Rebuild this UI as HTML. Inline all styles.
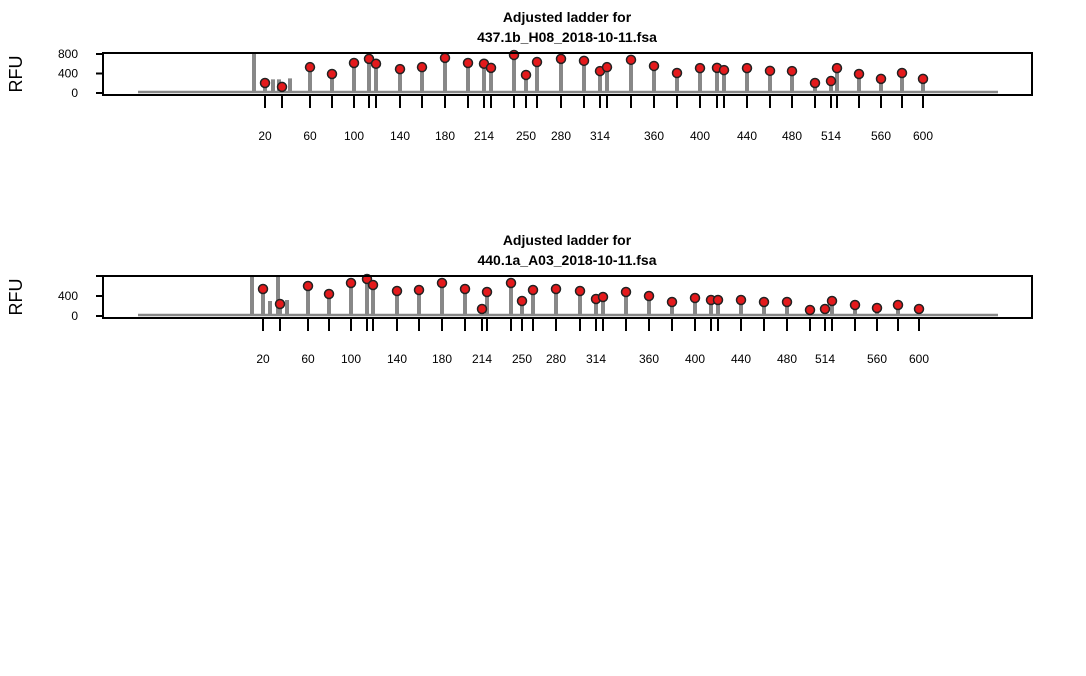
<!DOCTYPE html>
<html><head><meta charset="utf-8"><style>
body{margin:0;background:#fff;width:1086px;height:671px;overflow:hidden}
svg{font-family:"Liberation Sans",Arial,sans-serif}
</style></head><body>
<svg id="c" width="1086" height="671"></svg>
<script>
const sizes=[20,40,60,80,100,114,120,140,160,180,200,214,220,240,250,260,280,300,314,320,340,360,380,400,414,420,440,460,480,500,514,520,540,560,580,600];
const labelSizes=[20,60,100,140,180,214,250,280,314,360,400,440,480,514,560,600];
const scans1=[1620,1790,2070,2290,2510,2660,2730,2970,3190,3420,3650,3810,3880,4110,4230,4340,4580,4810,4970,5040,5280,5510,5740,5970,6140,6210,6440,6670,6890,7120,7280,7340,7560,7780,7990,8200];
const heights1=[205,125,530,390,615,700,600,490,530,720,615,600,515,780,370,635,700,660,450,530,680,555,410,510,515,470,510,455,450,205,245,510,390,290,410,290];
const scans2=[1600,1770,2050,2260,2480,2640,2700,2940,3160,3390,3620,3790,3840,4080,4190,4300,4530,4770,4930,5000,5230,5460,5690,5920,6080,6150,6380,6610,6840,7070,7220,7290,7520,7740,7950,8160];
const heights2=[540,240,600,440,660,740,620,500,520,660,540,140,480,660,300,520,540,500,340,380,480,400,280,360,320,320,320,280,280,120,140,300,220,160,220,140];
const extra1=[[1510,950],[1700,280],[1760,280],[1870,300]];
const extra2=[[1490,900],[1750,900],[1670,300],[1840,320]];
const yTicks1=[0,400,800];
const yTicks2=[0,400,800];
const svg=document.getElementById('c');const NS='http://www.w3.org/2000/svg';
function mk(t,a,p){const e=document.createElementNS(NS,t);for(const k in a)e.setAttribute(k,a[k]);(p||svg).appendChild(e);return e;}
function panel(o){
 const g=mk('g',{});
 
 
 const xs=s=>103+s/10, ys=v=>o.y0-v*o.k;
 let t=mk('text',{x:567,y:o.top-31,'text-anchor':'middle','font-size':14,'font-weight':'bold'},g);t.textContent='Adjusted ladder for';
 
 t=mk('text',{x:567,y:o.top-11,'text-anchor':'middle','font-size':14,'font-weight':'bold'},g);t.textContent=o.file;
 
 t=mk('text',{x:0,y:0,'text-anchor':'middle','font-size':18,transform:`translate(22,${(o.top+o.bot)/2}) rotate(-90)`},g);t.textContent='RFU';
 
 let d=`M${xs(350)},${o.y0-1}L${xs(8950)},${o.y0-1}`;
 const tr=mk('path',{d:d,stroke:'#888','stroke-width':2.5,fill:'none'},g);
 
 const cap=v=>Math.max(ys(v),o.top);
 o.extra.forEach(e=>{const l=mk('line',{x1:xs(e[0]),x2:xs(e[0]),y1:o.y0,y2:cap(e[1]),stroke:'#888','stroke-width':4},g);
  });
 o.scans.forEach((s,i)=>{
  const l=mk('line',{x1:xs(s),x2:xs(s),y1:o.y0,y2:cap(o.h[i]),stroke:'#888','stroke-width':4},g);
  
  const tk=mk('line',{x1:xs(s),x2:xs(s),y1:o.bot+1,y2:o.bot+13,stroke:'#000','stroke-width':2},g);
  
  if(labelSizes.includes(sizes[i])){const lb=mk('text',{x:xs(s),y:o.bot+45,'text-anchor':'middle','font-size':12},g);lb.textContent=sizes[i];
   }
 });
 o.scans.forEach((s,i)=>{const c=mk('circle',{cx:xs(s),cy:cap(o.h[i]),r:4.5,fill:'#e41a1c',stroke:'#222','stroke-width':1.5},g);
  });
 const b=mk('rect',{x:103,y:o.top,width:929,height:o.bot-o.top,fill:'none',stroke:'#000','stroke-width':2},g);
 
 o.yt.forEach(v=>{const y=ys(v);if(y<o.top-1)return;
  const l=mk('line',{x1:96,x2:103,y1:y,y2:y,stroke:'#000','stroke-width':2},g);
  
  if(o.show.includes(v)){const tl=mk('text',{x:78,y:y+4,'text-anchor':'end','font-size':12},g);tl.textContent=v;
   }});
}
panel({name:'panel-437',file:'437.1b_H08_2018-10-11.fsa',top:53,bot:95,y0:93,k:0.04875,scans:scans1,h:heights1,extra:extra1,yt:yTicks1,show:[0,400,800]});
panel({name:'panel-440',file:'440.1a_A03_2018-10-11.fsa',top:276,bot:318,y0:316,k:0.05,scans:scans2,h:heights2,extra:extra2,yt:yTicks2,show:[0,400]});
</script>
</body></html>
